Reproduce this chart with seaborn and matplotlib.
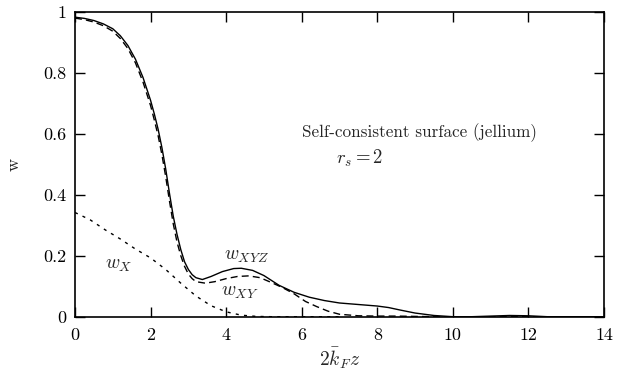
import matplotlib
matplotlib.use("Agg")
import matplotlib.pyplot as plt
import seaborn as sns
import pandas as pd

# w_XYZ (solid)
x_xyz = [0, 0.25, 0.5, 0.75, 1.0, 1.2, 1.4, 1.6, 1.8, 2.0, 2.1, 2.2, 2.3, 2.4, 2.5, 2.6, 2.7, 2.8, 2.9,
         3.0, 3.1, 3.2, 3.37, 3.6, 3.9, 4.2, 4.4, 4.7, 5.0, 5.4, 5.8, 6.2, 6.6, 7.0, 7.5, 8.0, 8.3, 8.6,
         9.0, 9.5, 10.0, 10.5, 11.0, 11.5, 12.0, 12.5, 13.0, 14.0]
w_xyz = [0.983, 0.979, 0.972, 0.961, 0.945, 0.922, 0.89, 0.845, 0.785, 0.71, 0.665, 0.615, 0.555,
         0.485, 0.405, 0.33, 0.27, 0.22, 0.18, 0.155, 0.138, 0.128, 0.122, 0.132, 0.148, 0.158, 0.159,
         0.152, 0.135, 0.103, 0.08, 0.064, 0.053, 0.045, 0.04, 0.035, 0.03, 0.022, 0.012, 0.004, 0.0,
         0.0, 0.002, 0.004, 0.003, 0.0, 0.0, 0.0]

# w_XY (dashed)
x_xy = [0, 0.25, 0.5, 0.75, 1.0, 1.2, 1.4, 1.6, 1.8, 2.0, 2.1, 2.2, 2.3, 2.4, 2.5, 2.6, 2.7, 2.8, 2.9,
        3.0, 3.1, 3.2, 3.45, 3.7, 4.0, 4.3, 4.6, 4.9, 5.2, 5.5, 5.8, 6.1, 6.4, 6.7, 7.0, 7.5, 8.0, 8.5,
        9.0, 9.5, 14.0]
w_xy = [0.98, 0.975, 0.967, 0.955, 0.937, 0.913, 0.88, 0.833, 0.77, 0.693, 0.645, 0.594, 0.532,
        0.46, 0.38, 0.305, 0.245, 0.20, 0.165, 0.14, 0.125, 0.115, 0.110, 0.115, 0.125, 0.132, 0.134,
        0.128, 0.112, 0.095, 0.075, 0.05, 0.033, 0.018, 0.008, 0.003, 0.002, 0.002, 0.001, 0.0, 0.0]

# w_X (dotted)
x_x = [0, 0.4, 0.8, 1.2, 1.6, 2.0, 2.4, 2.8, 3.2, 3.6, 4.0, 4.4, 4.8, 5.2, 6.0, 7.0]
w_x = [0.342, 0.318, 0.285, 0.255, 0.222, 0.193, 0.155, 0.11, 0.068, 0.036, 0.016, 0.005, 0.001, 0.0, 0.0, 0.0]

x_ticks = [0, 2, 4, 6, 8, 10, 12, 14]
y_ticks = [0, 0.2, 0.4, 0.6, 0.8, 1.0]
y_ticklabels = ["0", "0.2", "0.4", "0.6", "0.8", "1"]

sns.set_theme(style="ticks")
plt.rcParams["font.family"] = ["serif"]
plt.rcParams["font.serif"] = ["cmr10", "DejaVu Serif"]
plt.rcParams["mathtext.fontset"] = "cm"
plt.rcParams["axes.formatter.use_mathtext"] = True

fig = plt.figure(figsize=(6.28, 3.73), dpi=100)
ax = fig.add_axes([75 / 628, 1 - 316.7 / 373, (604 - 75) / 628, (316.7 - 12) / 373])

df_xyz = pd.DataFrame({"x": x_xyz, "w": w_xyz})
df_xy = pd.DataFrame({"x": x_xy, "w": w_xy})
df_x = pd.DataFrame({"x": x_x, "w": w_x})

sns.lineplot(data=df_xyz, x="x", y="w", ax=ax, color="black", lw=1.0)
sns.lineplot(data=df_xy, x="x", y="w", ax=ax, color="black", lw=1.0, linestyle=(0, (5, 3)))
sns.lineplot(data=df_x, x="x", y="w", ax=ax, color="black", lw=1.0, linestyle=(0, (2.2, 3.8)))

ax.set_xlim(0, 14)
ax.set_ylim(0, 1)
ax.set_xticks(x_ticks)
ax.set_xticklabels([str(t) for t in x_ticks])
ax.set_yticks(y_ticks)
ax.set_yticklabels(y_ticklabels)
ax.tick_params(direction="in", length=7, width=1.0, top=True, right=True, labelsize=13,
               colors="black")
ax.tick_params(axis="x", pad=8)
ax.tick_params(axis="y", pad=6)
for s in ax.spines.values():
    s.set_linewidth(1.2)
    s.set_color("black")

ax.set_xlabel(r"$2\bar{k}_F z$", fontsize=14, labelpad=2)
ax.set_ylabel("w", fontsize=13, labelpad=16)

ax.text(1.15, 0.17, r"$w_X$", fontsize=14, ha="center", va="center")
ax.text(4.55, 0.2, r"$w_{XYZ}$", fontsize=14, ha="center", va="center")
ax.text(4.35, 0.082, r"$w_{XY}$", fontsize=14, ha="center", va="center")
ax.text(6.0, 0.605, "Self-consistent surface (jellium)", fontsize=12.3, ha="left", va="center")
ax.text(6.9, 0.52, r"$r_s = 2$", fontsize=13.5, ha="left", va="center")

fig.savefig("out.png", dpi=100)
